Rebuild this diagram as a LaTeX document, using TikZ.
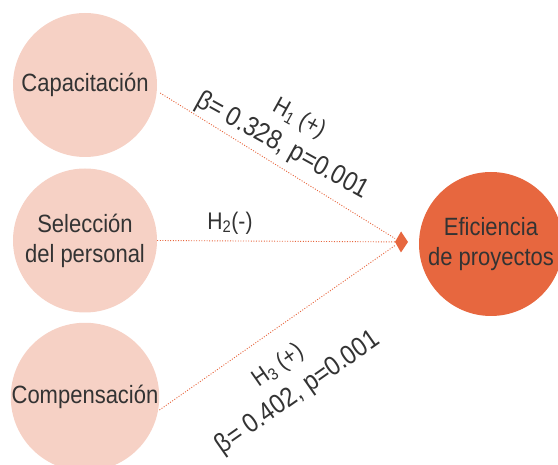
\documentclass[tikz,border=0pt]{standalone}
\usepackage{fontspec}
\setmainfont[FakeStretch=0.88]{Liberation Sans}
\usetikzlibrary{arrows.meta}
\definecolor{pinkc}{HTML}{F6D1C5}
\definecolor{orangec}{HTML}{E7673F}
\definecolor{txtc}{HTML}{333333}
\begin{document}
\begin{tikzpicture}[x=1pt,y=1pt,
 factor/.style={circle, fill=pinkc, minimum size=144pt, inner sep=0pt, align=center,
   font=\fontsize{25}{30}\selectfont, text=txtc},
 outcome/.style={factor, fill=orangec},
 link/.style={draw=orangec, line width=0.9pt, dash pattern=on 1pt off 1.6pt},
 lbl/.style={font=\fontsize{24}{28}\selectfont, text=txtc, inner sep=0pt},
 blbl/.style={font=\fontsize{27}{30}\selectfont, text=txtc, inner sep=0pt}]
\useasboundingbox (0,0) rectangle (558,-465);
\begin{scope}
\clip (0,0) rectangle (558,-465);
\node[factor] (c1) at (85,-85) {Capacitación};
\node[factor] (c2) at (85,-240.5) {Selección\\del personal};
\node[factor] (c3) at (85,-397) {Compensación};
\node[outcome] (out) at (491,-244) {Eficiencia\\de proyectos};
\coordinate (tip) at (408,-242);
\coordinate (in1) at (395,-238.5);
\coordinate (in3) at (395,-245.5);
\draw[link] ([xshift=3pt,yshift=-8pt]c1.east) -- (in1);
\draw[link, -{Kite[length=13pt,width=21pt,inset=6pt,line width=0pt]}] (c2.east) -- (tip);
\draw[link] ([yshift=-13pt]c3.east) -- (in3);
\node[lbl, rotate=-29] (h1) at (299,-119) {H\textsubscript{1} (+)};
\node[blbl, rotate=-29] (b1) at (282,-146) {β= 0.328, p=0.001};
\node[lbl] (h2) at (230,-223) {H\textsubscript{2}(-)};
\node[lbl, rotate=35] (h3) at (278,-366) {H\textsubscript{3} (+)};
\node[blbl, rotate=35] (b3) at (298,-393) {β= 0.402, p=0.001};
\end{scope}
\end{tikzpicture}
\end{document}
